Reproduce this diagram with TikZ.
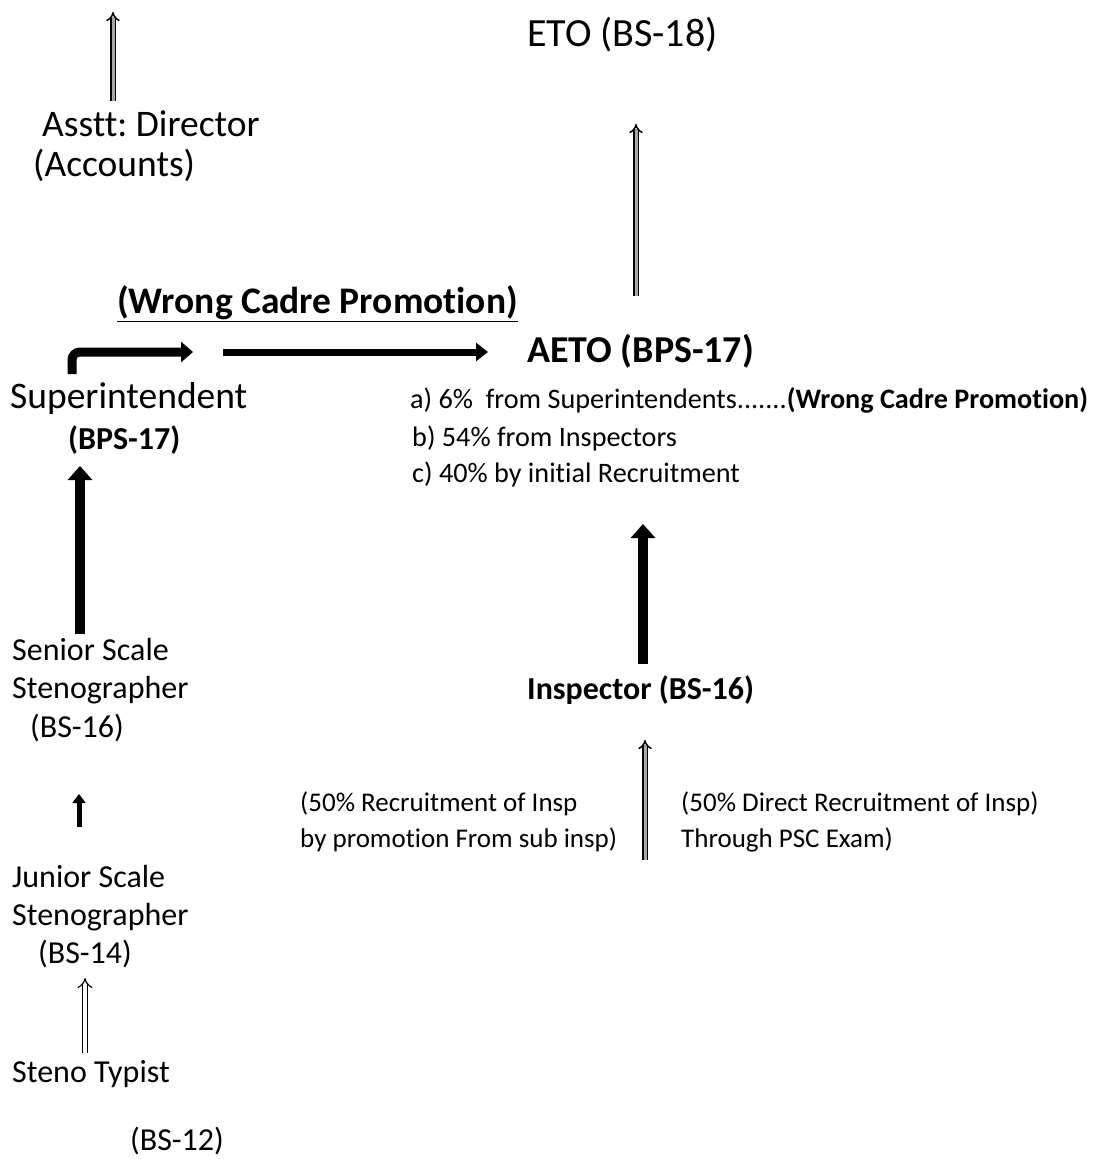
\documentclass[tikz,border=0pt]{standalone}
\usepackage{fontspec}
\setmainfont{Carlito}[Ligatures=NoCommon]
\usetikzlibrary{arrows.meta}
\frenchspacing
\begin{document}
\begin{tikzpicture}[x=1pt,y=-1pt,
  lbl/.style={anchor=base west,inner sep=0pt,font=\fontsize{32}{36}\selectfont},
  big/.style={anchor=base west,inner sep=0pt,font=\fontsize{37.5}{40}\selectfont},
  bigb/.style={anchor=base west,inner sep=0pt,font=\fontsize{37.5}{40}\selectfont\bfseries},
  lst/.style={anchor=base west,inner sep=0pt,font=\fontsize{28.2}{32}\selectfont},
  sml/.style={anchor=base west,inner sep=0pt,font=\fontsize{27}{30}\selectfont},
  thick arrow/.style={line width=10pt,-{Triangle[length=14pt,width=24pt]}},
  mid arrow/.style={line width=7pt,-{Triangle[length=12pt,width=18pt]}},
  hatch arrow/.style={draw=black,line width=1.5pt,double=gray!70,double distance=3pt,-{Implies[length=5pt]}},
]
\useasboundingbox (0,0) rectangle (1108,1159);
% texts
\node[big,font=\fontsize{40}{44}\selectfont] (eto) at (527,46) {ETO (BS-18)};
\node[big] (ad) at (42,136) {Asstt: Director};
\node[big] (acc) at (33,176) {(Accounts)};
\node[bigb] (wcp) at (117,313) {\underline{(Wrong Cadre Promotion)}};
\node[bigb,font=\fontsize{38}{40}\selectfont\bfseries] (aeto) at (527,362) {AETO (BPS-17)};
\node[big] (sup) at (10,408) {Superintendent};
\node[lbl,font=\fontsize{32}{36}\selectfont\bfseries] (supb) at (68,449) {(BPS-17)};
\node[lst] (la) at (410,408) {a) 6\%\ \ from Superintendents.......\textbf{(Wrong Cadre Promotion)}};
\node[lst] (lb) at (412,446) {b) 54\% from Inspectors};
\node[lst] (lc) at (412,482) {c) 40\% by initial Recruitment};
\node[lbl] (sss1) at (12,660) {Senior Scale};
\node[lbl] (sss2) at (12,698) {Stenographer};
\node[lbl] (sss3) at (30,737) {(BS-16)};
\node[lbl,font=\fontsize{32}{36}\selectfont\bfseries] (insp) at (527,699) {Inspector (BS-16)};
\node[lbl] (jss1) at (12,887) {Junior Scale};
\node[lbl] (jss2) at (12,925) {Stenographer};
\node[lbl] (jss3) at (38,963) {(BS-14)};
\node[lbl] (st) at (12,1082) {Steno Typist};
\node[lbl] (st2) at (130,1150) {(BS-12)};
\node[sml] (p1) at (300,811) {(50\% Recruitment of Insp};
\node[sml] (p2) at (300,847) {by promotion From sub insp)};
\node[sml] (q1) at (681,811) {(50\% Direct Recruitment of Insp)};
\node[sml] (q2) at (681,847) {Through PSC Exam)};
% arrow end points
\coordinate (adtop) at (113,12);
\coordinate (adbot) at (113,101);
\coordinate (etobot) at (636,296);
\coordinate (etotop) at (636,124);
\coordinate (bentstart) at (72,374);
\coordinate (bentend) at (193,352);
\coordinate (midstart) at (223,352);
\coordinate (midend) at (488,352);
\coordinate (supbot) at (80,634);
\coordinate (suptop) at (80,466);
\coordinate (inspbot) at (643,664);
\coordinate (insptop) at (643,524);
\coordinate (jsstop) at (79,794);
\coordinate (jssbot) at (79,827);
\coordinate (sttop) at (85,978);
\coordinate (stbot) at (85,1053);
\coordinate (ibot) at (645,860);
\coordinate (itop) at (645,740);
% arrows
\draw[hatch arrow] (adbot) -- (adtop);
\draw[hatch arrow] (etobot) -- (etotop);
\draw[line width=9pt,-{Triangle[length=12pt,width=20pt]},rounded corners=8pt] (bentstart) -- ++(0,-22) -- (bentend);
\draw[mid arrow] (midstart) -- (midend);
\draw[thick arrow] (supbot) -- (suptop);
\draw[thick arrow] (inspbot) -- (insptop);
\draw[line width=5pt,-{Triangle[length=9pt,width=13pt]}] (jssbot) -- (jsstop);
\draw[draw=black,line width=1.2pt,double=white,double distance=4pt,-{Implies[length=6pt]}] (stbot) -- (sttop);
\draw[hatch arrow] (ibot) -- (itop);
\end{tikzpicture}
\end{document}
